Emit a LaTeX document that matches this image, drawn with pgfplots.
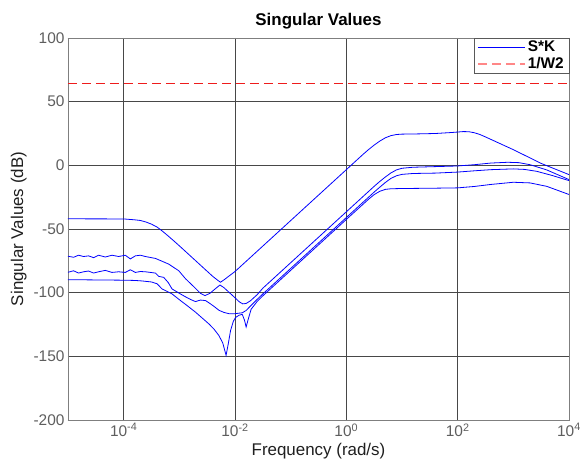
\documentclass[border=0pt]{standalone}
\usepackage{fontspec}
\setmainfont{Liberation Sans}
\usepackage{pgfplots}
\pgfplotsset{compat=1.18}
\definecolor{framegray}{HTML}{7F7F7F}
\definecolor{majgrid}{HTML}{474747}
\definecolor{mblue}{RGB}{0,0,255}
\definecolor{mred}{RGB}{238,28,28}
\definecolor{legred}{RGB}{255,135,135}

% singular values of S*K, frequency in rad/s, gain in dB
\pgfplotstableread{
w dB
1e-5 -42.0
1e-4 -42.1
1.585e-4 -42.8
1.995e-4 -43.3
2.512e-4 -44.5
3.162e-4 -46.2
3.981e-4 -48.5
5.012e-4 -51.8
6.310e-4 -55.5
7.943e-4 -59.3
1e-3 -63.2
1.585e-3 -71.2
2.512e-3 -79.2
3.981e-3 -87.2
5.012e-3 -90.6
5.495e-3 -91.8
6.310e-3 -90.0
1e-2 -83.4
0.1 -43.4
1 -3.4
1.995 8.6
2.512 12.4
3.162 15.9
3.981 19.0
5.012 21.6
6.310 23.3
7.943 24.2
10 24.5
19.95 24.7
39.81 25.0
79.43 25.8
125.9 26.5
158.5 26.4
199.5 25.6
251.2 24.2
316.2 22.3
1000 12.3
3162 1.5
10000 -7.3
}\svone

\pgfplotstableread{
w dB
1e-5 -71.4
1.259e-5 -72.2
1.549e-5 -70.6
1.905e-5 -71.6
2.344e-5 -71.1
2.884e-5 -72.5
3.548e-5 -70.6
4.677e-5 -72.0
6.166e-5 -70.6
8.128e-5 -71.6
1.072e-4 -70.6
1.318e-4 -73.5
1.622e-4 -71.1
1.995e-4 -70.6
2.455e-4 -71.6
3.715e-4 -73.1
5.012e-4 -75.5
6.457e-4 -77.6
9.772e-4 -82.8
1.288e-3 -89.0
1.995e-3 -97.0
2.399e-3 -100.5
2.884e-3 -102.3
3.548e-3 -100.5
4.467e-3 -96.8
5.370e-3 -94.0
6.310e-3 -96.0
7.943e-3 -100.0
1e-2 -104.0
1.202e-2 -107.3
1.380e-2 -108.8
1.585e-2 -108.5
1.905e-2 -106.3
2.512e-2 -101.5
3.162e-2 -96.5
0.1 -76.5
1 -36.5
3.162 -16.5
3.981 -12.7
5.012 -9.2
6.310 -6.0
7.943 -3.6
10 -2.3
15.85 -1.5
39.81 -1.0
100 -0.5
199.5 0.5
398.1 1.8
794.3 2.4
1259 2.1
1995 0.5
3981 -3.6
10000 -11.2
}\svtwo

\pgfplotstableread{
w dB
1e-5 -84.0
1.259e-5 -82.8
1.549e-5 -84.6
1.905e-5 -83.6
2.344e-5 -83.0
2.884e-5 -84.6
3.548e-5 -83.6
4.677e-5 -82.5
6.166e-5 -84.1
8.128e-5 -83.6
1.072e-4 -84.1
1.318e-4 -82.0
1.622e-4 -84.1
1.995e-4 -83.4
2.455e-4 -83.6
3.715e-4 -84.6
4.266e-4 -87.2
5.248e-4 -88.0
6.310e-4 -92.0
7.413e-4 -97.1
1e-3 -100.5
1.259e-3 -103.0
1.585e-3 -105.3
1.950e-3 -107.0
2.399e-3 -105.8
2.951e-3 -106.2
3.548e-3 -108.5
4.266e-3 -111.0
5.129e-3 -113.8
6.310e-3 -115.5
7.762e-3 -116.5
1e-2 -116.5
1.349e-2 -115.8
1.585e-2 -114.0
1.995e-2 -109.5
2.512e-2 -105.2
3.162e-2 -101.0
0.1 -81.0
1 -41.0
3.162 -21.0
3.981 -17.2
5.012 -13.5
6.310 -10.3
7.943 -8.2
10 -7.1
15.85 -6.4
39.81 -6.1
100 -5.3
199.5 -4.3
398.1 -3.4
1000 -2.8
1585 -3.2
2630 -4.7
5012 -8.0
10000 -12.0
}\svthree

\pgfplotstableread{
w dB
1e-5 -89.8
1e-4 -90.2
1.585e-4 -90.4
2.138e-4 -90.8
3.162e-4 -91.6
3.981e-4 -93.0
4.898e-4 -97.1
6.026e-4 -99.0
7.413e-4 -101.0
1e-3 -105.5
1.413e-3 -110.5
1.950e-3 -115.3
2.512e-3 -119.5
3.388e-3 -124.5
4.169e-3 -128.5
5.129e-3 -133.6
6.026e-3 -139.5
6.918e-3 -149.2
7.586e-3 -140.0
8.318e-3 -129.8
9.333e-3 -122.5
1.023e-2 -119.5
1.175e-2 -117.8
1.349e-2 -117.0
1.479e-2 -121.5
1.585e-2 -127.0
1.738e-2 -120.5
1.950e-2 -113.0
2.512e-2 -106.8
3.162e-2 -102.5
0.1 -82.5
1 -42.5
2.512 -26.6
3.162 -23.0
3.981 -20.4
5.012 -18.9
6.310 -18.4
10 -18.2
31.62 -18.0
100 -17.7
199.5 -16.6
398.1 -15.0
1000 -13.3
1995 -13.8
3981 -16.5
10000 -22.9
}\svfour

% 1/W2 bound, constant in dB
\pgfplotstableread{
w dB
1e-5 64.2
1e4 64.2
}\wtwo

\begin{document}
\begin{tikzpicture}
\begin{axis}[
  scale only axis, width=501bp, height=382bp,
  xmode=log, xmin=1e-5, xmax=1e4, ymin=-200, ymax=100,
  xtick={1e-4,1e-2,1,1e2,1e4},
  xticklabels={10\textsuperscript{-4},10\textsuperscript{-2},10\textsuperscript{0},10\textsuperscript{2},10\textsuperscript{4}},
  ytick={-200,-150,-100,-50,0,50,100},
  yticklabels={-200,-150,-100,-50,0,50,100},
  grid=major,
  major grid style={majgrid, line width=0.7bp},
  tick align=inside,
  major tick length=5bp,
  tick style={majgrid, line width=0.7bp},
  axis line style={framegray, line width=0.8bp},
  ticklabel style={text opacity=0.63, font=\fontsize{15.5}{18}\selectfont},
  xlabel={Frequency (rad/s)},
  ylabel={Singular Values (dB)},
  label style={text opacity=0.88, font=\fontsize{17}{20}\selectfont},
  title={\bfseries Singular Values},
  title style={font=\fontsize{17}{20}\selectfont, yshift=-1bp},
  legend style={at={(rel axis cs:1,1)}, anchor=north east,
    draw=black!65, fill=white,
    font=\bfseries\fontsize{15.5}{18}\selectfont,
    inner xsep=3bp, inner ysep=1bp, row sep=0bp},
  legend cell align=left,
  legend image code/.code={\draw[#1] plot coordinates {(0bp,0bp) (23bp,0bp) (47bp,0bp)};},
]
\addplot[mblue, line width=0.8bp, forget plot] table[x=w, y=dB] {\svone};
\addplot[mblue, line width=0.8bp, forget plot] table[x=w, y=dB] {\svtwo};
\addplot[mblue, line width=0.8bp, forget plot] table[x=w, y=dB] {\svthree};
\addplot[mblue, line width=0.8bp, forget plot] table[x=w, y=dB] {\svfour};
\addplot[mred, line width=1.8bp, dash pattern=on 9bp off 5bp, forget plot]
  table[x=w, y=dB] {\wtwo};
\addlegendimage{mblue, line width=0.8bp}
\addlegendentry{S*K}
\addlegendimage{legred, line width=1.8bp, dash pattern=on 9bp off 5bp}
\addlegendentry{1/W2}
\coordinate (bl) at (rel axis cs:0,0);
\coordinate (tr) at (rel axis cs:1,1);
\end{axis}
\pgfresetboundingbox
\path[use as bounding box] ([shift={(-68bp,-54bp)}]bl) rectangle ([shift={(12bp,38bp)}]tr);
\end{tikzpicture}
\end{document}
